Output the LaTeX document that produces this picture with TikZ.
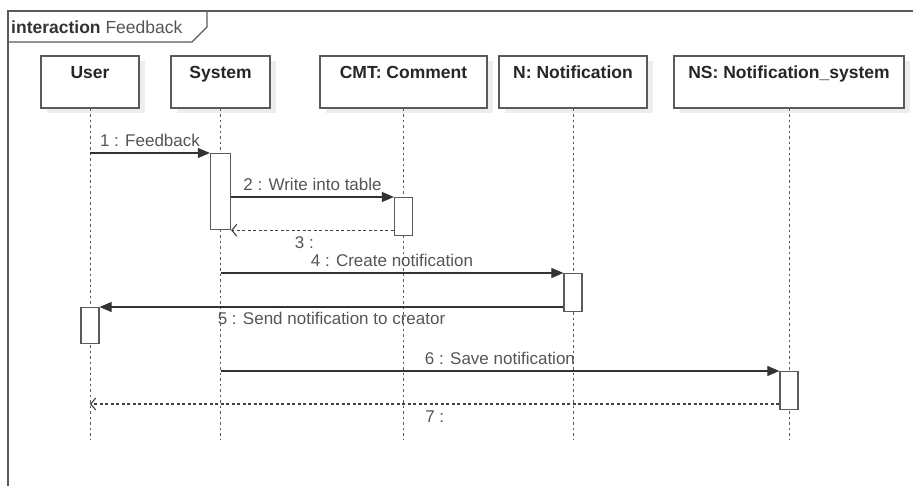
\documentclass[tikz,border=0pt]{standalone}
\usepackage{fontspec}
\setmainfont{Liberation Sans}
\usepackage{tikz}
\usetikzlibrary{arrows.meta, shadows}
\definecolor{umlGray}{RGB}{90,90,90}
\definecolor{umlText}{RGB}{85,85,85}

\begin{document}
\begin{tikzpicture}[x=1pt, y=-1pt,
    head/.style={draw=umlGray, line width=1.3pt, fill=white, minimum height=52pt,
        text height=12.5pt, text depth=18.5pt, text=black!85,
        font=\fontsize{17.5}{19}\selectfont\bfseries,
        drop shadow={shadow xshift=6pt, shadow yshift=-5pt, fill=black!7, opacity=1}},
    life/.style={umlGray, line width=1pt, dash pattern=on 2.5pt off 3pt},
    act/.style={draw=umlGray, line width=1.2pt, fill=white, minimum width=18pt, inner sep=0pt},
    msg/.style={black!80, line width=1.1pt, -{Triangle[length=12pt, width=10pt]}},
    ret/.style={black!75, line width=1.1pt, dash pattern=on 3pt off 2.5pt,
        -{Straight Barb[length=5pt, width=12pt]}},
    lbl/.style={text=umlText, font=\fontsize{17}{19}\selectfont, inner sep=1pt}]

    \useasboundingbox (0,0) rectangle (913,486);

    % frame
    \draw[umlGray, line width=1.5pt] (913,11) -- (8,11) -- (8,486);
    \draw[umlGray, line width=1.3pt] (8,42) -- (192,42) -- (207,27) -- (207,11);
    \node[anchor=west, inner sep=0pt, font=\fontsize{17.5}{19}\selectfont, text=black!80] (title) at (11,27)
        {\textbf{interaction} \textcolor{umlText}{Feedback}};

    % lifelines
    \node[head, minimum width=98pt] (user) at (90,82) {User};
    \node[head, minimum width=99pt] (sys) at (220.5,82) {System};
    \node[head, minimum width=167pt] (cmt) at (403.5,82) {CMT: Comment};
    \node[head, minimum width=148pt] (notif) at (573,82) {N: Notification};
    \node[head, minimum width=230pt] (ns) at (789,82) {NS: Notification\_system};

    \coordinate (lend) at (0,440);
    \foreach \p in {user, sys, cmt, notif, ns}
        \draw[life] (\p) -- (\p |- lend);

    % activations
    \node[act, minimum width=20pt, minimum height=76pt, anchor=north] (sysA) at (sys |- 0,153) {};
    \node[act, minimum height=38pt, anchor=north] (cmtA) at (cmt |- 0,197) {};
    \node[act, minimum height=38pt, anchor=north] (notifA) at (notif |- 0,273) {};
    \node[act, minimum height=36pt, anchor=north] (userA) at (user |- 0,307) {};
    \node[act, minimum height=38pt, anchor=north] (nsA) at (ns |- 0,371) {};

    % messages
    \draw[msg] (user |- sysA.north) -- (sysA.north west)
        node[lbl, midway, above=5pt] (m1) {1 : Feedback};
    \draw[msg] (sysA.east |- cmtA.north) -- (cmtA.north west)
        node[lbl, midway, above=5pt] (m2) {2 : Write into table};
    \draw[ret] (cmtA.west |- sysA.south) -- (sysA.south east)
        node[lbl, pos=0.55, below=5pt] (m3) {3 :};
    \draw[msg] (sys |- notifA.north) -- (notifA.north west)
        node[lbl, midway, above=5pt] (m4) {4 : Create notification};
    \draw[msg] (notifA.west |- userA.north) -- (userA.north east)
        node[lbl, midway, below=4pt] (m5) {5 : Send notification to creator};
    \draw[msg] (sys |- nsA.north) -- (nsA.north west)
        node[lbl, midway, above=5pt] (m6) {6 : Save notification};
    \coordinate (r7) at (0,404);
    \draw[ret] (nsA.west |- r7) -- (user |- r7)
        node[lbl, midway, below=5pt] (m7) {7 :};

\end{tikzpicture}
\end{document}
